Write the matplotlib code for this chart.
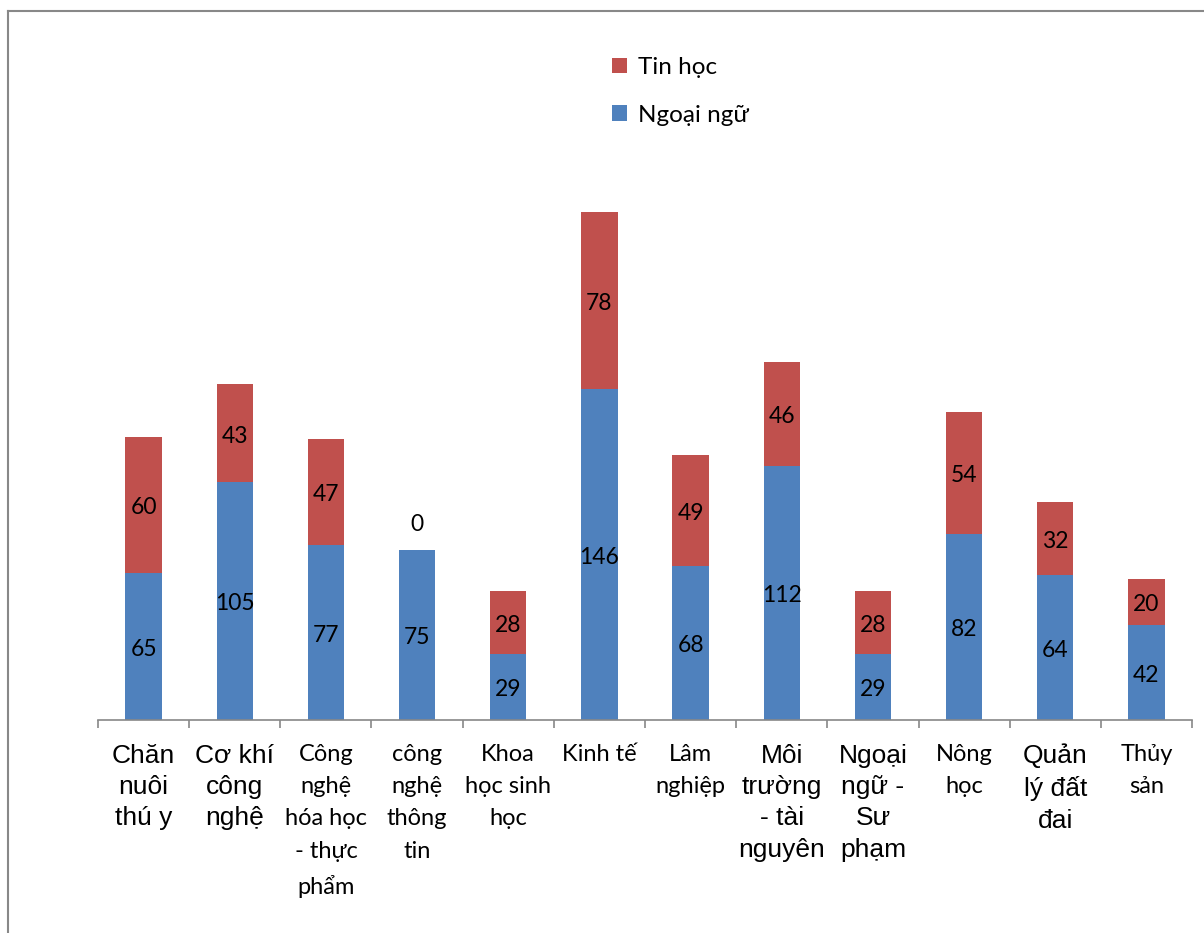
import matplotlib.pyplot as plt
from matplotlib.lines import Line2D
import numpy as np

# số liệu theo ngành
nganh = ['Chăn\nnuôi\nthú y', 'Cơ khí\ncông\nnghệ', 'Công\nnghệ\nhóa học\n- thực\nphẩm',
         'công\nnghệ\nthông\ntin', 'Khoa\nhọc sinh\nhọc', 'Kinh tế', 'Lâm\nnghiệp',
         'Môi\ntrường\n- tài\nnguyên', 'Ngoại\nngữ -\nSư\nphạm', 'Nông\nhọc',
         'Quản\nlý đất\nđai', 'Thủy\nsản']
ngoai_ngu = [65, 105, 77, 75, 29, 146, 68, 112, 29, 82, 64, 42]
tin_hoc = [60, 43, 47, 0, 28, 78, 49, 46, 28, 54, 32, 20]
# nhãn nào dùng font kiểu Arial, nhãn nào kiểu Calibri
arial_label = [True, True, False, False, False, False, False, True, True, False, True, False]

xanh = '#4F81BD'
do = '#C0504D'

fig = plt.figure(figsize=(12.04, 9.33), dpi=100)
ax = fig.add_axes([98 / 1204, 1 - 720 / 933, (1192 - 98) / 1204, 600 / 933])

x = np.arange(len(nganh))
b1 = ax.bar(x, ngoai_ngu, width=0.4, color=xanh, label='Ngoại ngữ')
b2 = ax.bar(x, tin_hoc, width=0.4, bottom=ngoai_ngu, color=do, label='Tin học')

ax.set_xlim(-0.5, len(nganh) - 0.5)
ax.set_ylim(0, 600 / 2.267)

# nhãn giá trị, hạ xuống một chút cho cân giữa đoạn cột
for i in range(len(nganh)):
    ax.annotate(str(ngoai_ngu[i]), (x[i], ngoai_ngu[i] / 2), xytext=(0, -2),
                textcoords='offset points', ha='center', va='center',
                fontsize=16.5, family='Lato')
    if tin_hoc[i] == 0:
        ax.annotate(str(tin_hoc[i]), (x[i], ngoai_ngu[i]), xytext=(0, 11),
                    textcoords='offset points', ha='center', va='bottom',
                    fontsize=16.5, family='Lato')
    else:
        ax.annotate(str(tin_hoc[i]), (x[i], ngoai_ngu[i] + tin_hoc[i] / 2), xytext=(0, -2),
                    textcoords='offset points', ha='center', va='center',
                    fontsize=16.5, family='Lato')

for s in ['top', 'right', 'left']:
    ax.spines[s].set_visible(False)
ax.spines['bottom'].set_color('#888888')
ax.spines['bottom'].set_linewidth(1.2)
ax.set_yticks([])

ax.set_xticks(x)
ax.set_xticklabels(nganh)
ax.set_xticks(np.arange(-0.5, len(nganh)), minor=True)
ax.tick_params(axis='x', which='major', length=0, pad=17)
ax.tick_params(axis='x', which='minor', length=6, color='#888888', width=1.2)
for lab, a in zip(ax.get_xticklabels(), arial_label):
    lab.set_verticalalignment('top')
    if a:
        lab.set_family('Liberation Sans')
        lab.set_fontsize(19)
        lab.set_linespacing(1.39)
    else:
        lab.set_family('Lato')
        lab.set_fontsize(17)
        lab.set_linespacing(1.67)

fig.legend(handles=[b2, b1], loc='upper left', bbox_to_anchor=(612 / 1204, 1 - 57 / 933),
           frameon=False, prop={'family': 'Lato', 'size': 17.5}, handlelength=0.6,
           handleheight=0.6, handletextpad=0.45, labelspacing=1.1,
           borderpad=0, borderaxespad=0)

# khung viền ngoài
fig.add_artist(Line2D([8 / 1204, 8 / 1204], [0, 1 - 11 / 933], color='#888888', lw=1.5))
fig.add_artist(Line2D([8 / 1204, 1], [1 - 11 / 933, 1 - 11 / 933], color='#888888', lw=1.5))

fig.savefig('out.png', dpi=100)
